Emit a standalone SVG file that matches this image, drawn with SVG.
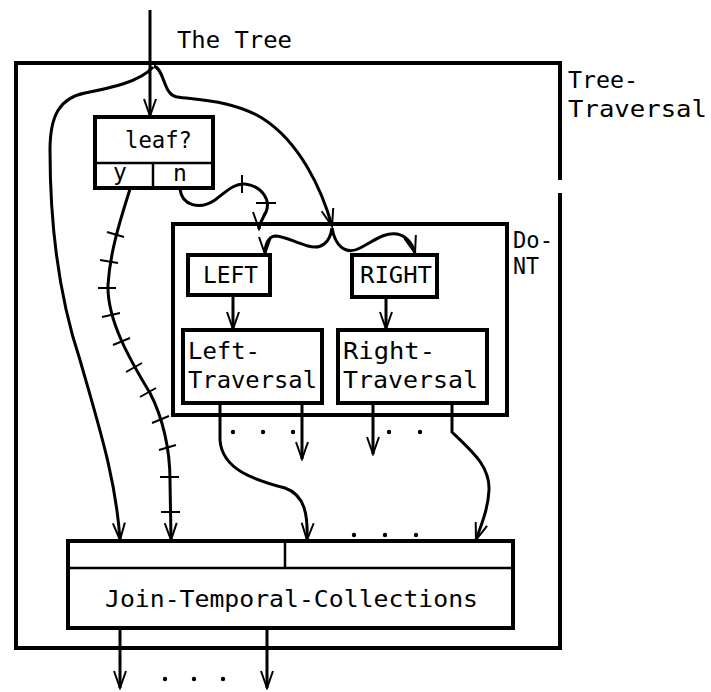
<svg xmlns="http://www.w3.org/2000/svg" width="711" height="692" viewBox="0 0 711 692">
<defs>
<marker id="ah" markerUnits="userSpaceOnUse" viewBox="-18 -8 20 16" markerWidth="20" markerHeight="16" refX="0" refY="0" orient="auto">
<path d="M-17,-6 L0,0 L-17,6" fill="none" stroke="#000" stroke-width="2"/>
</marker>
<style>
.box{fill:none;stroke:#000;stroke-width:4}
.thin{fill:none;stroke:#000;stroke-width:2.5}
.wire{fill:none;stroke:#000;stroke-width:3}
.arr{fill:none;stroke:#000;stroke-width:3;marker-end:url(#ah)}
.tick{stroke:#000;stroke-width:2}
text{font-family:"DejaVu Sans Mono","Liberation Mono",monospace;font-size:23px;fill:#000}
.dot{fill:#000}
</style>
</defs>
<rect width="711" height="692" fill="#fff"/>

<g id="tree-traversal">
<path class="box" d="M560,193 L560,648 L16,648 L16,63 L560,63 L560,180"/>
<text x="568" y="88" textLength="70" lengthAdjust="spacingAndGlyphs">Tree-</text>
<text x="568" y="117" textLength="139" lengthAdjust="spacingAndGlyphs">Traversal</text>
</g>

<g id="the-tree-label">
<text x="177" y="48" textLength="115" lengthAdjust="spacingAndGlyphs">The Tree</text>
</g>

<g id="leaf">
<rect class="box" x="95" y="117" width="118" height="71"/>
<line class="thin" x1="95" y1="163" x2="213" y2="163"/>
<line class="thin" x1="153" y1="163" x2="153" y2="188"/>
<text x="125" y="148" textLength="67" lengthAdjust="spacingAndGlyphs">leaf?</text>
<text x="120" y="180" text-anchor="middle">y</text>
<text x="180" y="181" text-anchor="middle">n</text>
</g>

<g id="do-nt">
<rect class="box" x="173" y="224" width="334" height="191"/>
<text x="513" y="248" textLength="40" lengthAdjust="spacingAndGlyphs">Do-</text>
<text x="513" y="274" textLength="26" lengthAdjust="spacingAndGlyphs">NT</text>
</g>

<g id="left">
<rect class="box" x="188" y="255" width="82" height="40"/>
<text x="203" y="283" textLength="55" lengthAdjust="spacingAndGlyphs">LEFT</text>
</g>

<g id="right">
<rect class="box" x="352" y="255" width="85" height="42"/>
<text x="360" y="283" textLength="72" lengthAdjust="spacingAndGlyphs">RIGHT</text>
</g>

<g id="left-traversal">
<rect class="box" x="183" y="330" width="139" height="73"/>
<text x="188" y="359" textLength="72" lengthAdjust="spacingAndGlyphs">Left-</text>
<text x="188" y="388" textLength="129" lengthAdjust="spacingAndGlyphs">Traversal</text>
</g>

<g id="right-traversal">
<rect class="box" x="338" y="330" width="149" height="73"/>
<text x="343" y="359" textLength="92" lengthAdjust="spacingAndGlyphs">Right-</text>
<text x="343" y="388" textLength="135" lengthAdjust="spacingAndGlyphs">Traversal</text>
</g>

<g id="join">
<rect class="box" x="68" y="541" width="445" height="87"/>
<line class="thin" x1="68" y1="568" x2="513" y2="568"/>
<line class="thin" x1="285" y1="541" x2="285" y2="568"/>
<text x="105" y="607" textLength="373" lengthAdjust="spacingAndGlyphs">Join-Temporal-Collections</text>
</g>

<g id="connectors">
<path class="arr" d="M150,10 L150,116"/>
<path class="arr" d="M153,67 C 140,82 110,88 85,93 C 60,98 50,115 50,150 C 50,230 60,300 80,360 C 100,430 116,480 120,540"/>
<path class="arr" d="M154,66 C 165,70 163,95 177,97 C 197,100 232,100 262,118 C 300,142 322,190 332,226"/>
<path class="arr" d="M180,189 C 182,206 200,210 215,200 C 228,190 235,183 245,184 C 262,186 271,200 266,212 C 262,220 259,224 259,229"/>
<line class="tick" x1="242" y1="175" x2="242" y2="193"/>
<line class="tick" x1="256" y1="203" x2="276" y2="203"/>
<path class="arr" d="M332,228 C 330,242 322,250 308,246 C 294,242 284,236 275,236 C 268,237 265,245 265,254"/>
<path class="arr" d="M332,228 C 335,245 345,256 360,248 C 375,240 385,232 397,234 C 407,236 412,243 415,253"/>
<path class="arr" d="M130,189 C 122,215 110,250 108,285 C 107,320 130,360 150,393 C 163,418 170,450 170,480 L171,540"/>
<line class="tick" x1="107" y1="232" x2="124" y2="237"/>
<line class="tick" x1="100" y1="260" x2="118" y2="263"/>
<line class="tick" x1="98" y1="288" x2="116" y2="288"/>
<line class="tick" x1="102" y1="317" x2="120" y2="313"/>
<line class="tick" x1="113" y1="345" x2="130" y2="338"/>
<line class="tick" x1="126" y1="372" x2="142" y2="363"/>
<line class="tick" x1="140" y1="397" x2="156" y2="388"/>
<line class="tick" x1="152" y1="423" x2="169" y2="416"/>
<line class="tick" x1="159" y1="450" x2="176" y2="445"/>
<line class="tick" x1="160" y1="477" x2="179" y2="477"/>
<line class="tick" x1="161" y1="512" x2="180" y2="512"/>
<path class="arr" d="M233,295 L233,329"/>
<path class="arr" d="M386,297 L386,329"/>
<path class="arr" d="M220,403 L220,440 C 222,470 255,480 285,488 C 305,495 308,515 307,540"/>
<path class="arr" d="M302,403 L302,459"/>
<path class="arr" d="M373,403 L373,454"/>
<path class="arr" d="M452,403 L452,432 C 470,450 490,465 489,490 C 488,510 481,525 476,540"/>
<path class="arr" d="M120,628 L120,688"/>
<path class="arr" d="M267,628 L267,688"/>
<circle class="dot" cx="233" cy="432" r="2.2"/>
<circle class="dot" cx="263" cy="432" r="2.2"/>
<circle class="dot" cx="293" cy="432" r="2.2"/>
<circle class="dot" cx="389" cy="432" r="2.2"/>
<circle class="dot" cx="420" cy="432" r="2.2"/>
<circle class="dot" cx="354" cy="535" r="2.2"/>
<circle class="dot" cx="385" cy="535" r="2.2"/>
<circle class="dot" cx="416" cy="535" r="2.2"/>
<circle class="dot" cx="165" cy="679" r="2.2"/>
<circle class="dot" cx="194" cy="679" r="2.2"/>
<circle class="dot" cx="223" cy="679" r="2.2"/>
</g>
</svg>
